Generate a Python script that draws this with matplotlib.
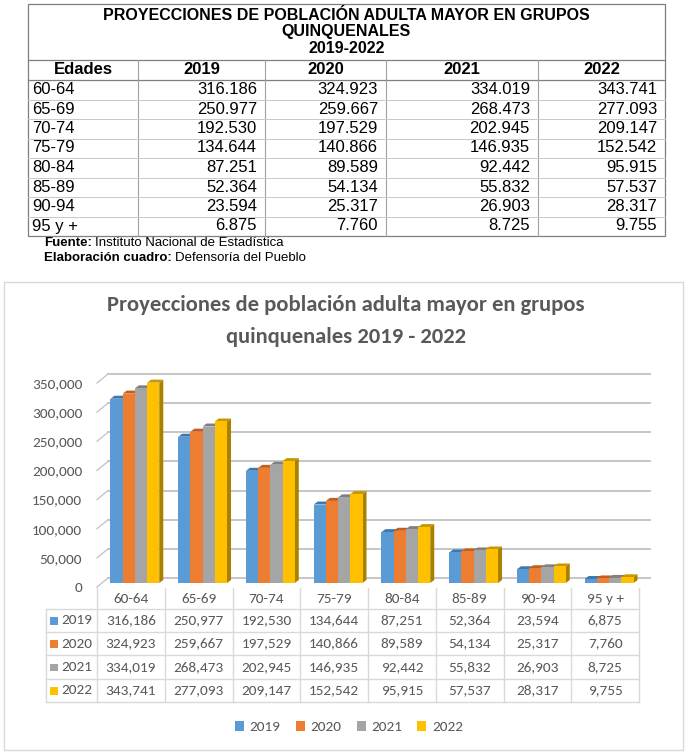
import matplotlib
matplotlib.use("Agg")
import matplotlib.pyplot as plt
from matplotlib.patches import Polygon, Rectangle
from matplotlib.transforms import ScaledTranslation
from matplotlib import font_manager

# datos
edades = ['60-64', '65-69', '70-74', '75-79', '80-84', '85-89', '90-94', '95 y +']
years = ['2019', '2020', '2021', '2022']
v2019 = [316186, 250977, 192530, 134644, 87251, 52364, 23594, 6875]
v2020 = [324923, 259667, 197529, 140866, 89589, 54134, 25317, 7760]
v2021 = [334019, 268473, 202945, 146935, 92442, 55832, 26903, 8725]
v2022 = [343741, 277093, 209147, 152542, 95915, 57537, 28317, 9755]
series = [v2019, v2020, v2021, v2022]
y_ticks = [0, 50000, 100000, 150000, 200000, 250000, 300000, 350000]

colors = ['#5B9BD5', '#ED7D31', '#A5A5A5', '#FFC000']
tops = ['#3F78AD', '#C45E1E', '#808080', '#C99700']
sides = ['#2E5F8C', '#A84F17', '#6E6E6E', '#A98000']

available = {f.name for f in font_manager.fontManager.ttflist}
def pick(*names):
    return [n for n in names if n in available] or ['DejaVu Sans']

ARIAL = pick('Liberation Sans', 'Arial')
CALIBRI = pick('Carlito', 'Lato', 'Open Sans')
GRAY = '#595959'
LINE = '#d9d9d9'
FS = 11  # chart text size

W, H = 689, 755
fig = plt.figure(figsize=(W / 100, H / 100), dpi=100)

# background axes in pixel coordinates for the tables and frames
bg = fig.add_axes([0, 0, 1, 1])
bg.set_xlim(0, W)
bg.set_ylim(H, 0)
bg.axis('off')

# ---------- tabla superior ----------
tl, tr = 28, 665
cols = [28, 138, 265, 386, 538, 665]
bg.add_patch(Rectangle((tl, 4), tr - tl, 232, fill=False, ec='#7f7f7f', lw=0.9))
bg.plot([tl, tr], [60, 60], color='#7f7f7f', lw=0.9)
bg.plot([tl, tr], [80, 80], color='#7f7f7f', lw=0.9)
for cx in cols[1:-1]:
    bg.plot([cx, cx], [60, 236], color='#a0a0a0', lw=0.8)
row_h = 19.5
for i in range(1, len(edades)):
    y = 80 + row_h * i
    bg.plot([tl, tr], [y, y], color='#c8c8c8', lw=0.7)

title_lines = ['PROYECCIONES DE POBLACIÓN ADULTA MAYOR EN GRUPOS', 'QUINQUENALES', '2019-2022']
for i, t in enumerate(title_lines):
    bg.text((tl + tr) / 2, 15 + 16.8 * i, t, ha='center', va='center',
            fontsize=11.5, fontweight='bold', family=ARIAL)
heads = ['Edades'] + years
for j, t in enumerate(heads):
    bg.text((cols[j] + cols[j + 1]) / 2, 70, t, ha='center', va='center',
            fontsize=12, fontweight='bold', family=ARIAL)
for i, e in enumerate(edades):
    y = 89.5 + row_h * i
    bg.text(tl + 4, y, e, ha='left', va='center', fontsize=12, family=ARIAL)
    for j, s in enumerate(series):
        txt = f'{s[i]:,}'.replace(',', '.')
        bg.text(cols[j + 2] - 8, y, txt, ha='right', va='center', fontsize=12, family=ARIAL)

# notas: parte en negrita seguida del texto normal
renderer = fig.canvas.get_renderer()
for y, bold, rest in [(243, 'Fuente:', 'Instituto Nacional de Estadística'),
                      (258, 'Elaboración cuadro:', 'Defensoría del Pueblo')]:
    tb = bg.text(44, y, bold, ha='left', va='center', fontsize=9.5, fontweight='bold', family=ARIAL)
    ext = tb.get_window_extent(renderer)
    bg.text(ext.x1 + 3, y, rest, ha='left', va='center', fontsize=9.5, family=ARIAL)

# ---------- grafico ----------
bg.add_patch(Rectangle((4, 282), 679, 468, fill=False, ec=LINE, lw=1))
bg.text(346, 305, 'Proyecciones de población adulta mayor en grupos', ha='center', va='center',
        fontsize=16.3, fontweight='bold', color=GRAY, family=CALIBRI)
bg.text(346, 337, 'quinquenales 2019 - 2022', ha='center', va='center',
        fontsize=16.3, fontweight='bold', color=GRAY, family=CALIBRI)

# plot area (front plane of the bars)
px_l, px_r, px_b, px_t = 101, 643, 583, 379
ax = fig.add_axes([px_l / W, 1 - px_b / H, (px_r - px_l) / W, (px_b - px_t) / H])
ax.set_xlim(-0.5, len(edades) - 0.5)
ax.set_ylim(0, 350000)
kx = len(edades) / (px_r - px_l)
ky = 350000 / (px_b - px_t)
for sp in ax.spines.values():
    sp.set_visible(False)
ax.set_xticks([])
ax.set_yticks(y_ticks)
ax.set_yticklabels([f'{t:,}' for t in y_ticks], color=GRAY, family=CALIBRI, fontsize=FS)
ax.tick_params(axis='y', length=0, pad=13.5)
for lab in ax.get_yticklabels():
    lab.set_transform(lab.get_transform() + ScaledTranslation(0, -4 / 100, fig.dpi_scale_trans))

# gridlines on back wall + left wall diagonals
x0 = -0.5
x1 = len(edades) - 0.5
for t in y_ticks:
    ax.plot([x0 + 7 * kx, x1 + 7 * kx], [t + 5 * ky, t + 5 * ky], color='#c6c6c6', lw=1.4,
            clip_on=False, zorder=1)
    ax.plot([x0 - 4 * kx, x0 + 7 * kx], [t - 4 * ky, t + 5 * ky], color='#c6c6c6', lw=1.0,
            clip_on=False, zorder=1)

bw = 0.18
dx, dy = 4 * kx, 3 * ky
handles = []
for i in range(len(edades)):
    for j, s in enumerate(series):
        xc = i + (j - 1.5) * bw
        b = ax.bar(xc, s[i], width=bw, color=colors[j], zorder=3 + i * 10 + j * 2, lw=0)
        if i == 0:
            handles.append(b)
        xl, xr, v = xc - bw / 2, xc + bw / 2, s[i]
        ax.add_patch(Polygon([(xl, v), (xr, v), (xr + dx, v + dy), (xl + dx, v + dy)],
                             closed=True, fc=tops[j], lw=0, zorder=2 + i * 10 + j * 2, clip_on=False))
        ax.add_patch(Polygon([(xr, 0), (xr, v), (xr + dx, v + dy), (xr + dx, dy)],
                             closed=True, fc=sides[j], lw=0, zorder=2 + i * 10 + j * 2, clip_on=False))

# tabla de datos bajo el grafico
cw = (639 - 97) / len(edades)
tab_l, leg_l = 97, 46
row_lines = [609, 632, 655, 679, 702]
for k in range(len(edades) + 1):
    cx = tab_l + cw * k
    bg.plot([cx, cx], [588, 702], color=LINE, lw=1)
bg.plot([leg_l, leg_l], [609, 702], color=LINE, lw=1)
for y in row_lines:
    bg.plot([leg_l, tab_l + cw * len(edades)], [y, y], color=LINE, lw=1)
for k, e in enumerate(edades):
    bg.text(tab_l + cw * (k + 0.5), 599, e, ha='center', va='center', color=GRAY,
            fontsize=FS, family=CALIBRI)
for j, s in enumerate(series):
    yc = (row_lines[j] + row_lines[j + 1]) / 2
    bg.add_patch(Rectangle((50, yc - 3.5), 7.5, 7.5, fc=colors[j], lw=0))
    bg.text(61, yc, years[j], ha='left', va='center', color=GRAY, fontsize=FS, family=CALIBRI)
    for k in range(len(edades)):
        bg.text(tab_l + cw * (k + 0.5), yc, f'{s[k]:,}', ha='center', va='center', color=GRAY,
                fontsize=FS, family=CALIBRI)

fig.legend(handles, years, ncol=4, loc='center', bbox_to_anchor=(349 / W, 1 - 727 / H),
           frameon=False, handlelength=0.6, handleheight=0.6, handletextpad=0.35,
           columnspacing=1.0, prop={'family': CALIBRI, 'size': FS}, labelcolor=GRAY)

fig.savefig('out.png', dpi=100)
